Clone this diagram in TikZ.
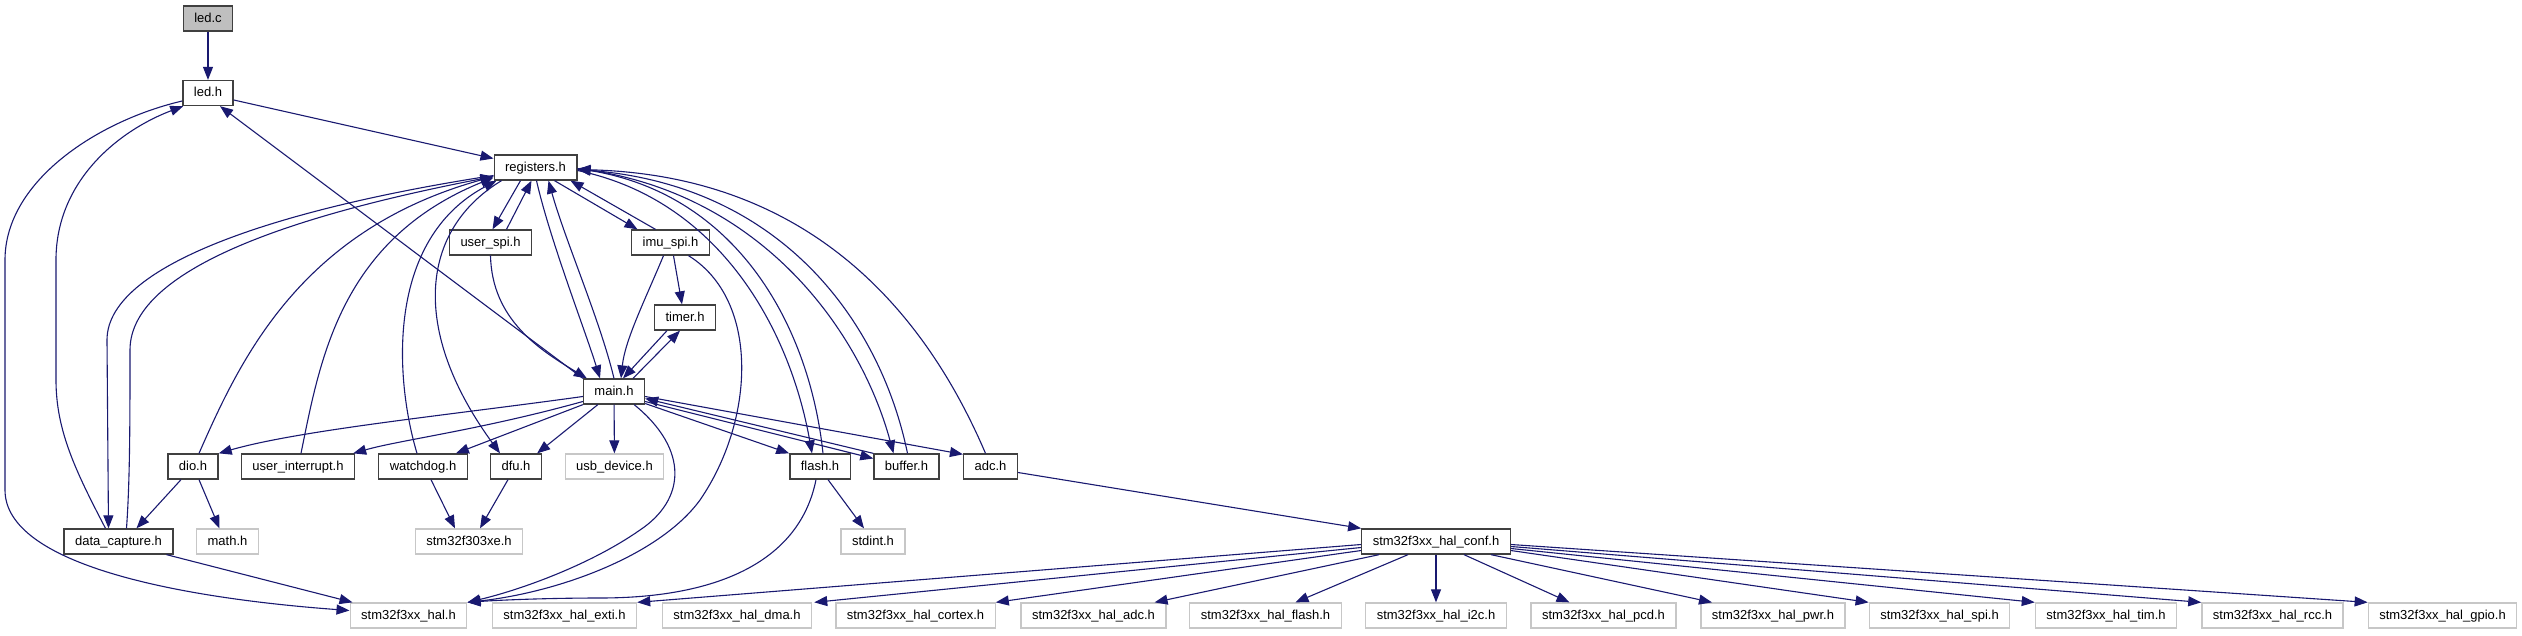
\documentclass[tikz,border=0pt]{standalone}
\usepackage{fontspec}
\setmainfont{Liberation Sans}
\usetikzlibrary{arrows.meta}
\definecolor{edgeblue}{HTML}{191970}

\begin{document}
\begin{tikzpicture}[x=1pt, y=-1pt,
    hdr/.style={rectangle, draw=black!75, line width=1.3pt, fill=white, inner xsep=11pt, inner ysep=0pt, minimum height=25pt, text height=9.5pt, text depth=2.5pt, font=\fontsize{13}{15}\selectfont},
    ext/.style={hdr, draw=black!22},
    src/.style={hdr, fill=black!25},
    arr/.style={draw=edgeblue, line width=1.1pt, -{Triangle[length=13pt, width=10pt]}}
]
\useasboundingbox (0,0) rectangle (2522,635);

\node[src] (ledc) at (208,18.5) {led.c};
\node[hdr] (ledh) at (208,93) {led.h};
\node[hdr] (registers) at (535.5,167.5) {registers.h};
\node[hdr] (userspi) at (490.5,242.5) {user\_spi.h};
\node[hdr] (imuspi) at (670.5,242.5) {imu\_spi.h};
\node[hdr] (timer) at (685,317.5) {timer.h};
\node[hdr] (main) at (614,391.5) {main.h};
\node[hdr] (dio) at (193,466.5) {dio.h};
\node[hdr] (userint) at (298,466.5) {user\_interrupt.h};
\node[hdr] (watchdog) at (423,466.5) {watchdog.h};
\node[hdr] (dfu) at (516,466.5) {dfu.h};
\node[ext] (usbdev) at (614.5,466.5) {usb\_device.h};
\node[hdr] (flash) at (820,466.5) {flash.h};
\node[hdr] (buffer) at (906.5,466.5) {buffer.h};
\node[hdr] (adc) at (990.5,466.5) {adc.h};
\node[hdr] (datacap) at (118.5,541.5) {data\_capture.h};
\node[ext] (math) at (227.5,541.5) {math.h};
\node[ext] (stmxe) at (469,541.5) {stm32f303xe.h};
\node[ext] (stdint) at (873,541.5) {stdint.h};
\node[hdr] (halconf) at (1436,541.5) {stm32f3xx\_hal\_conf.h};
\node[ext] (hal) at (408.5,615.5) {stm32f3xx\_hal.h};
\node[ext] (exti) at (564.5,615.5) {stm32f3xx\_hal\_exti.h};
\node[ext] (dma) at (737,615.5) {stm32f3xx\_hal\_dma.h};
\node[ext] (cortex) at (915.5,615.5) {stm32f3xx\_hal\_cortex.h};
\node[ext] (haladc) at (1093.5,615.5) {stm32f3xx\_hal\_adc.h};
\node[ext] (halflash) at (1265.5,615.5) {stm32f3xx\_hal\_flash.h};
\node[ext] (i2c) at (1436,615.5) {stm32f3xx\_hal\_i2c.h};
\node[ext] (pcd) at (1603.5,615.5) {stm32f3xx\_hal\_pcd.h};
\node[ext] (pwr) at (1773,615.5) {stm32f3xx\_hal\_pwr.h};
\node[ext] (spi) at (1939.5,615.5) {stm32f3xx\_hal\_spi.h};
\node[ext] (tim) at (2106,615.5) {stm32f3xx\_hal\_tim.h};
\node[ext] (rcc) at (2272.5,615.5) {stm32f3xx\_hal\_rcc.h};
\node[ext] (gpio) at (2442.5,615.5) {stm32f3xx\_hal\_gpio.h};

% led.c / led.h
\draw[arr] (ledc) -- (ledh);
\draw[arr] ([yshift=-7pt]ledh.east) -- ([yshift=9pt]registers.west);
\draw[arr] ([yshift=-8pt]ledh.west) .. controls (100,120) and (5,180) .. (5,260) -- (5,490) .. controls (5,565) and (180,598) .. ([yshift=5pt]hal.west);

% registers.h and the headers around it
\draw[arr] ([xshift=-13pt]datacap.north) .. controls (75,470) and (56,430) .. (56,380) -- (56,260) .. controls (56,180) and (120,130) .. ([xshift=1pt]ledh.south west);
\draw[arr] ([yshift=-8pt]registers.west) .. controls (300,205) and (107,260) .. (107,340) -- ([xshift=-10pt]datacap.north);
\draw[arr] ([xshift=8pt]datacap.north) .. controls (130,480) and (130,420) .. (130,350) .. controls (130,265) and (310,212) .. ([yshift=-9pt]registers.west);
\draw[arr] ([xshift=6pt]dio.north) .. controls (240,360) and (300,230) .. ([yshift=-9pt]registers.west);
\draw[arr] ([xshift=3pt]userint.north) .. controls (320,360) and (340,240) .. ([yshift=-10pt]registers.west);
\draw[arr] ([xshift=-6pt]watchdog.north) .. controls (395,380) and (385,240) .. ([xshift=3pt]registers.south west);
\draw[arr] ([xshift=8pt]registers.south west) .. controls (420,230) and (410,330) .. ([xshift=-16pt]dfu.north);
\draw[arr] ([xshift=-15pt]registers.south) -- ([xshift=2pt]userspi.north);
\draw[arr] ([xshift=16pt]userspi.north) -- ([xshift=-4pt]registers.south);
\draw[arr] ([xshift=1pt]registers.south) .. controls (550,240) and (585,330) .. ([xshift=-14pt]main.north);
\draw[arr] (main.north) .. controls (600,320) and (565,240) .. ([xshift=13pt]registers.south);
\draw[arr] ([xshift=19pt]registers.south) -- ([xshift=-33pt]imuspi.north);
\draw[arr] ([xshift=-15pt]imuspi.north) -- ([xshift=35pt]registers.south);
\draw[arr] ([yshift=-3pt]registers.east) .. controls (720,200) and (790,330) .. ([xshift=-8pt]flash.north);
\draw[arr] ([xshift=3pt]flash.north) .. controls (810,330) and (740,195) .. ([yshift=-1pt]registers.east);
\draw[arr] ([yshift=-1pt]registers.east) .. controls (760,190) and (860,330) .. ([xshift=-13pt]buffer.north);
\draw[arr] ([xshift=1pt]buffer.north) .. controls (880,320) and (780,185) .. ([yshift=-2pt]registers.east);
\draw[arr] ([xshift=-5pt]adc.north) .. controls (920,300) and (800,175) .. ([yshift=-2pt]registers.east);

% main.h
\draw[arr] (userspi.south) .. controls (492,320) and (540,350) .. ([xshift=4pt]main.north west);
\draw[arr] (main.north west) -- ([xshift=12pt]ledh.south);
\draw[arr] ([xshift=-7pt]imuspi.south) .. controls (645,300) and (625,340) .. ([xshift=7pt]main.north);
\draw[arr] ([xshift=3pt]imuspi.south) -- ([xshift=-3pt]timer.north);
\draw[arr] ([xshift=-18pt]timer.south) -- ([xshift=9pt]main.north);
\draw[arr] ([xshift=19pt]main.north) -- ([xshift=-5pt]timer.south);
\draw[arr] ([xshift=18pt]imuspi.south) .. controls (760,300) and (755,420) .. (700,500) .. controls (660,555) and (560,592) .. (hal.north east);
\draw[arr] ([xshift=-11pt]main.south east) .. controls (690,450) and (685,500) .. (640,530) .. controls (590,565) and (520,590) .. (hal.north east);
\draw[arr] ([yshift=-5pt]main.west) .. controls (450,415) and (300,430) .. (dio.north east);
\draw[arr] ([yshift=-10pt]main.west) .. controls (480,430) and (400,440) .. ([xshift=-2pt]userint.north east);
\draw[arr] (main.south west) -- ([xshift=-12pt]watchdog.north east);
\draw[arr] ([xshift=15pt]main.south west) -- ([xshift=-5pt]dfu.north east);
\draw[arr] (main) -- (usbdev);
\draw[arr] ([yshift=-12pt]main.east) -- (flash.north west);
\draw[arr] ([yshift=-10pt]main.east) -- ([yshift=8pt]buffer.west);
\draw[arr] (buffer.north west) -- ([yshift=-7pt]main.east);
\draw[arr] ([yshift=-5pt]main.east) -- ([yshift=-1pt]adc.north west);

% lower rows
\draw[arr] ([xshift=-12pt]dio.south) -- ([xshift=18pt]datacap.north);
\draw[arr] ([xshift=6pt]dio.south) -- ([xshift=-8pt]math.north);
\draw[arr] ([xshift=-7pt]datacap.south east) -- ([xshift=3pt]hal.north west);
\draw[arr] ([xshift=8pt]watchdog.south) -- ([xshift=-14pt]stmxe.north);
\draw[arr] ([xshift=-8pt]dfu.south) -- ([xshift=11pt]stmxe.north);
\draw[arr] ([xshift=-4pt]flash.south) .. controls (800,560) and (720,598) .. (600,598) .. controls (550,598) and (500,600) .. (hal.north east);
\draw[arr] ([xshift=8pt]flash.south) -- ([xshift=-9pt]stdint.north);
\draw[arr] ([yshift=-6pt]adc.east) -- (halconf.north west);

% stm32f3xx_hal_conf.h
\draw[arr] ([yshift=-3pt]halconf.west) -- (exti.north east);
\draw[arr] ([yshift=-6pt]halconf.west) -- ([xshift=2pt]dma.north east);
\draw[arr] ([yshift=-9pt]halconf.west) -- (cortex.north east);
\draw[arr] ([xshift=18pt]halconf.south west) -- ([xshift=-12pt]haladc.north east);
\draw[arr] ([xshift=-28pt]halconf.south) -- ([xshift=30pt]halflash.north);
\draw[arr] (halconf) -- (i2c);
\draw[arr] ([xshift=28pt]halconf.south) -- ([xshift=-34pt]pcd.north);
\draw[arr] ([xshift=55pt]halconf.south) -- ([xshift=-61pt]pwr.north);
\draw[arr] ([yshift=-9pt]halconf.east) -- (spi.north west);
\draw[arr] ([yshift=-7pt]halconf.east) -- (tim.north west);
\draw[arr] ([yshift=-5pt]halconf.east) -- (rcc.north west);
\draw[arr] ([yshift=-3pt]halconf.east) -- (gpio.north west);

\end{tikzpicture}
\end{document}
